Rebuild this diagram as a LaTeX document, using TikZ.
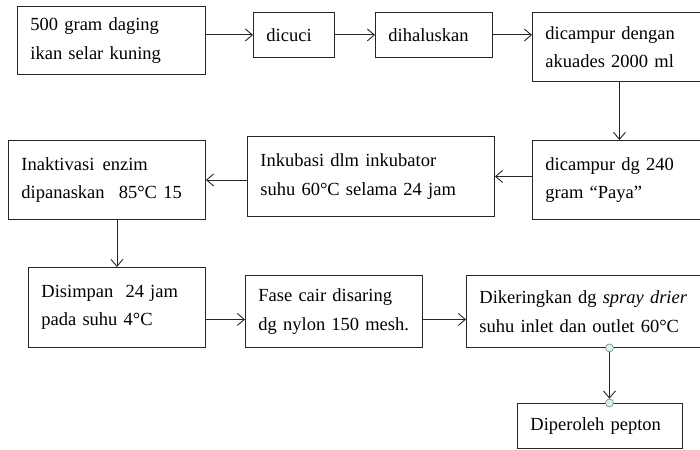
\documentclass[tikz,border=0pt]{standalone}
\usepackage{fontspec}
\setmainfont{Liberation Serif}
\usetikzlibrary{arrows.meta}
\definecolor{handlefill}{HTML}{D9EFF2}
\definecolor{handledraw}{HTML}{7F8F92}
\tikzset{
  box/.style={draw=black!85, line width=0.9pt, anchor=north west, inner xsep=13pt,
    inner ysep=0pt, align=left, font=\fontsize{18.5}{28.5}\selectfont},
  arr/.style={draw=black!85, line width=0.9pt, -{Straight Barb[length=7pt,width=12pt]}},
  handle/.style={circle, draw=handledraw, fill=handlefill, line width=0.7pt, inner sep=0pt, minimum size=8pt}
}
\begin{document}
\begin{tikzpicture}[x=1pt,y=-1pt]
\useasboundingbox (0,0) rectangle (700,449);
\clip (0,0) rectangle (700,449);
\fill[white] (0,0) rectangle (700,449);
\node[box, minimum width=188pt, minimum height=68pt, text width=162pt] (b1) at (17,6)
  {\mbox{500 gram daging}\\\mbox{ikan selar kuning}};
\node[box, minimum width=81pt, minimum height=45pt, text width=55pt] (b2) at (253,12)
  {\mbox{dicuci}};
\node[box, minimum width=117pt, minimum height=45pt, text width=91pt] (b3) at (375,12)
  {\mbox{dihaluskan}};
\node[box, minimum width=174pt, minimum height=69pt, text width=148pt] (b4) at (532,12)
  {\mbox{dicampur dengan}\\\mbox{akuades 2000 ml}};
\node[box, minimum width=174pt, minimum height=79pt, text width=148pt] (b5) at (532,140)
  {\mbox{dicampur dg 240}\\\mbox{gram “Paya”}};
\node[box, minimum width=247pt, minimum height=80pt, text width=221pt] (b6) at (247,136)
  {\mbox{Inkubasi dlm inkubator}\\\mbox{suhu 60°C selama 24 jam}};
\node[box, minimum width=197pt, minimum height=79pt, text width=171pt] (b7) at (8,140)
  {\mbox{Inaktivasi\hspace{2pt} enzim}\\\mbox{dipanaskan\hspace{8pt} 85°C 15}};
\node[box, minimum width=177pt, minimum height=80pt, text width=151pt] (b8) at (28,267)
  {\mbox{Disimpan\hspace{6pt} 24 jam}\\\mbox{pada suhu 4°C}};
\node[box, minimum width=177pt, minimum height=72pt, text width=151pt] (b9) at (245,275)
  {\mbox{Fase cair disaring}\\\mbox{dg nylon 150 mesh.}};
\node[box, minimum width=240pt, minimum height=72pt, text width=214pt] (b10) at (466,275)
  {\mbox{Dikeringkan dg \textit{spray drier}}\\\mbox{suhu inlet dan outlet 60°C}};
\node[box, minimum width=165pt, minimum height=45pt, text width=139pt] (b11) at (517,403)
  {\mbox{Diperoleh pepton}};
% connectors
\draw[arr] (b1.east |- b2.west) -- (b2.west);
\draw[arr] (b2.east) -- (b3.west);
\draw[arr] (b3.east) -- (b3.east -| b4.west);
\draw[arr] (b4.south) -- (b5.north);
\draw[arr] (b6.east -| b5.west) -- (b6.east);
\draw[arr] (b6.west |- b7.east) -- (b7.east);
\draw[arr] (b7.south -| b8.north) -- (b8.north);
\coordinate (r3) at ([yshift=-8pt]b9.west);
\draw[arr] (r3 -| b8.east) -- (r3);
\draw[arr] (r3 -| b9.east) -- (r3 -| b10.west);
\coordinate (p) at ([xshift=9.5pt]b11.north);
\node[handle] (h2) at (p) {};
\node[handle] (h1) at (p |- b10.south) {};
\draw[arr] (h1) -- (h2);
\end{tikzpicture}
\end{document}
